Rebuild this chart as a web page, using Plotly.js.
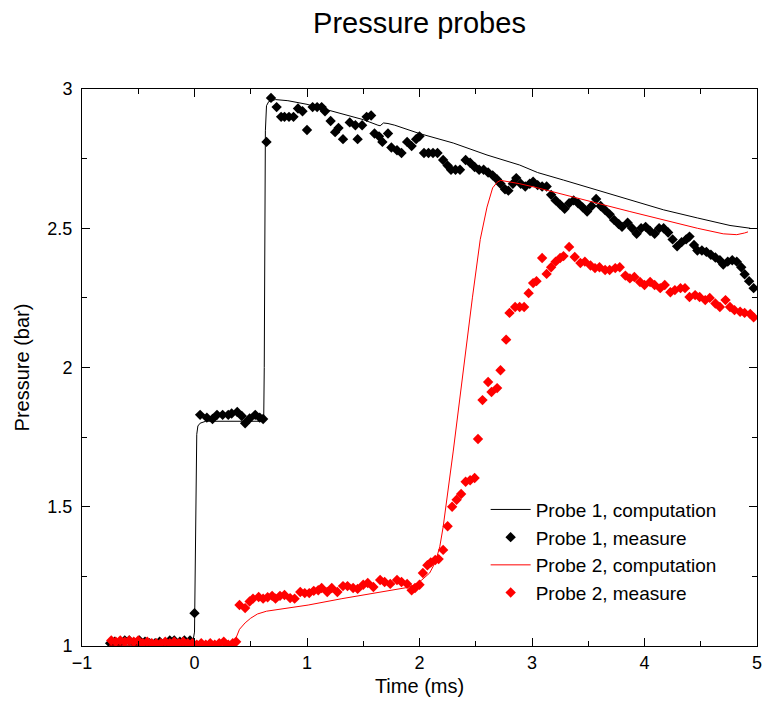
<!DOCTYPE html>
<html>
<head>
<meta charset="utf-8">
<script src="https://cdn.plot.ly/plotly-3.0.1.min.js"></script>
<style>html,body{margin:0;padding:0;background:#fff;}#chart{width:764px;height:706px;}</style>
</head>
<body>
<div id="chart"></div>
<script>
// Probe 1, computation
const p1CompX = [-0.76, -0.02, 0.0, 0.01, 0.02, 0.03, 0.05, 0.1, 0.3, 0.615, 0.62, 0.63, 0.64, 0.66, 0.72, 0.83, 1.0, 1.13, 1.31, 1.43, 1.5, 1.63, 1.65, 1.68, 1.72, 1.78, 2.0, 2.3, 2.6, 2.89, 3.05, 3.28, 3.58, 3.87, 4.17, 4.47, 4.76, 4.94];
const p1CompY = [1.003, 1.003, 1.05, 1.5, 1.76, 1.79, 1.80, 1.807, 1.807, 1.807, 2.0, 2.85, 2.94, 2.955, 2.962, 2.958, 2.945, 2.93, 2.91, 2.896, 2.89, 2.87, 2.868, 2.878, 2.876, 2.87, 2.84, 2.806, 2.763, 2.727, 2.70, 2.673, 2.637, 2.60, 2.566, 2.537, 2.51, 2.50];

// Probe 1, measure
const p1MeasX = [-0.75, -0.71, -0.67, -0.62, -0.58, -0.53, -0.49, -0.44, -0.40, -0.35, -0.31, -0.26, -0.22, -0.18, -0.13, -0.09, -0.04, 0.0,
  0.05, 0.11, 0.16, 0.20, 0.25, 0.30, 0.33, 0.38, 0.42, 0.45, 0.49, 0.54, 0.58, 0.61,
  0.64, 0.68, 0.73, 0.77, 0.80, 0.84, 0.88, 0.92, 0.96, 1.00, 1.05, 1.09, 1.13, 1.16, 1.21, 1.25, 1.28, 1.32, 1.38, 1.43, 1.45, 1.49, 1.53, 1.57,
  1.60, 1.64, 1.67, 1.72, 1.75, 1.80, 1.84, 1.89, 1.93, 1.97, 2.00, 2.04, 2.08, 2.12, 2.16, 2.21, 2.25, 2.28, 2.32, 2.36, 2.41, 2.45, 2.49, 2.53,
  2.57, 2.61, 2.65, 2.69, 2.72, 2.76, 2.79, 2.83, 2.86, 2.90, 2.94, 2.98, 3.01, 3.05, 3.09, 3.13, 3.17, 3.21, 3.25, 3.29, 3.33, 3.37, 3.41, 3.45,
  3.49, 3.53, 3.57, 3.61, 3.65, 3.69, 3.73, 3.77, 3.80, 3.85, 3.89, 3.93, 3.97, 4.01, 4.05, 4.09, 4.13, 4.17, 4.21, 4.25, 4.29, 4.33, 4.37, 4.40,
  4.44, 4.47, 4.51, 4.55, 4.59, 4.63, 4.67, 4.70, 4.74, 4.78, 4.82, 4.86, 4.89, 4.93, 4.97];
const p1MeasY = [1.01, 1.015, 1.01, 1.02, 1.02, 1.01, 1.02, 1.015, 1.01, 1.01, 1.015, 1.01, 1.02, 1.02, 1.015, 1.02, 1.02, 1.118,
  1.83, 1.82, 1.815, 1.83, 1.83, 1.83, 1.835, 1.84, 1.826, 1.80, 1.817, 1.83, 1.82, 1.815,
  2.81, 2.968, 2.935, 2.90, 2.90, 2.90, 2.90, 2.93, 2.92, 2.853, 2.935, 2.935, 2.935, 2.92, 2.885, 2.845, 2.86, 2.82, 2.88, 2.87, 2.82, 2.87, 2.90, 2.905,
  2.84, 2.83, 2.81, 2.84, 2.79, 2.78, 2.77, 2.81, 2.795, 2.82, 2.83, 2.77, 2.77, 2.77, 2.77, 2.745, 2.725, 2.71, 2.71, 2.71, 2.745, 2.735, 2.72, 2.71,
  2.71, 2.70, 2.69, 2.675, 2.66, 2.64, 2.635, 2.66, 2.68, 2.66, 2.65, 2.66, 2.667, 2.655, 2.65, 2.65, 2.62, 2.60, 2.585, 2.57, 2.59, 2.60, 2.59, 2.575,
  2.56, 2.58, 2.605, 2.58, 2.565, 2.55, 2.53, 2.515, 2.505, 2.52, 2.50, 2.48, 2.50, 2.505, 2.49, 2.48, 2.50, 2.50, 2.485, 2.46, 2.435, 2.45, 2.46, 2.47,
  2.44, 2.42, 2.42, 2.415, 2.405, 2.395, 2.385, 2.37, 2.38, 2.385, 2.38, 2.36, 2.335, 2.31, 2.285];

// Probe 2, computation
const p2CompX = [-0.76, 0.30, 0.34, 0.36, 0.40, 0.45, 0.50, 0.56, 0.64, 0.72, 0.85, 1.01, 1.31, 1.61, 1.89, 1.96, 2.02, 2.09, 2.14, 2.18, 2.21, 2.30, 2.39, 2.47, 2.54, 2.60, 2.65, 2.69, 2.72, 2.89, 3.05, 3.28, 3.58, 3.87, 4.17, 4.47, 4.70, 4.82, 4.89, 4.92];
const p2CompY = [1.003, 1.003, 1.008, 1.02, 1.06, 1.083, 1.10, 1.115, 1.125, 1.13, 1.138, 1.147, 1.17, 1.19, 1.21, 1.22, 1.237, 1.262, 1.30, 1.356, 1.427, 1.70, 2.0, 2.25, 2.46, 2.576, 2.645, 2.665, 2.672, 2.66, 2.645, 2.62, 2.59, 2.56, 2.53, 2.50, 2.48, 2.477, 2.483, 2.487];

// Probe 2, measure
const p2MeasX = [-0.74, -0.70, -0.66, -0.62, -0.58, -0.54, -0.50, -0.46, -0.42, -0.38, -0.34, -0.30, -0.26, -0.22, -0.18, -0.14, -0.10, -0.06, -0.02, 0.02, 0.06, 0.10, 0.14, 0.18, 0.22, 0.26, 0.30, 0.34, 0.37,
  0.40, 0.45, 0.49, 0.52, 0.57, 0.61, 0.65, 0.69, 0.72, 0.76, 0.80, 0.85, 0.89, 0.94, 0.98, 1.02, 1.06, 1.10, 1.13, 1.18, 1.22, 1.27, 1.32, 1.36,
  1.41, 1.45, 1.50, 1.54, 1.59, 1.65, 1.69, 1.74, 1.80, 1.84, 1.89, 1.93, 1.96, 2.00, 2.03, 2.07, 2.10, 2.14, 2.17, 2.21, 2.25, 2.29, 2.33, 2.37,
  2.41, 2.45, 2.49, 2.52, 2.56, 2.61, 2.64, 2.69, 2.72, 2.77, 2.80, 2.85, 2.89, 2.93, 2.97, 3.01, 3.04, 3.09, 3.13, 3.17, 3.21, 3.25, 3.28, 3.33,
  3.38, 3.43, 3.47, 3.52, 3.56, 3.60, 3.65, 3.69, 3.74, 3.78, 3.83, 3.87, 3.91, 3.96, 4.00, 4.05, 4.09, 4.14, 4.18, 4.23, 4.27, 4.32, 4.36, 4.40,
  4.45, 4.49, 4.54, 4.58, 4.63, 4.67, 4.72, 4.76, 4.80, 4.85, 4.89, 4.94, 4.97];
const p2MeasY = [1.02, 1.015, 1.02, 1.015, 1.02, 1.015, 1.02, 1.01, 1.015, 1.01, 1.01, 1.01, 1.015, 1.01, 1.015, 1.01, 1.015, 1.01, 1.01, 1.005, 1.01, 1.005, 1.01, 1.005, 1.01, 1.015, 1.005, 1.01, 1.015,
  1.147, 1.136, 1.16, 1.17, 1.176, 1.17, 1.175, 1.18, 1.17, 1.18, 1.183, 1.172, 1.17, 1.194, 1.19, 1.19, 1.198, 1.20, 1.208, 1.194, 1.208, 1.194, 1.215, 1.215,
  1.208, 1.205, 1.22, 1.226, 1.212, 1.237, 1.23, 1.223, 1.237, 1.23, 1.223, 1.20, 1.208, 1.22, 1.262, 1.29, 1.30, 1.309, 1.312, 1.345, 1.43, 1.50, 1.525, 1.546,
  1.59, 1.595, 1.603, 1.743, 1.883, 1.948, 1.912, 1.926, 1.99, 2.10, 2.196, 2.217, 2.217, 2.217, 2.267, 2.303, 2.31, 2.393, 2.336, 2.36, 2.38, 2.393, 2.40, 2.433,
  2.397, 2.375, 2.38, 2.366, 2.357, 2.36, 2.35, 2.35, 2.357, 2.36, 2.33, 2.32, 2.325, 2.307, 2.296, 2.307, 2.296, 2.285, 2.296, 2.27, 2.278, 2.285, 2.285, 2.253,
  2.26, 2.253, 2.242, 2.25, 2.23, 2.217, 2.242, 2.217, 2.206, 2.20, 2.196, 2.192, 2.18];

const xTickVals = [-1, 0, 1, 2, 3, 4, 5];
const xTickText = ['\u22121', '0', '1', '2', '3', '4', '5'];
const yTickVals = [1, 1.5, 2, 2.5, 3];
const yTickText = ['1', '1.5', '2', '2.5', '3'];

const FONT = 'Liberation Sans, Arial, sans-serif';

const traces = [
  {x: p1CompX, y: p1CompY, mode: 'lines', name: 'Probe 1, computation', line: {color: '#000000', width: 1}},
  {x: p1MeasX, y: p1MeasY, mode: 'markers', name: 'Probe 1, measure', marker: {symbol: 'diamond', size: 8, color: '#000000'}},
  {x: p2CompX, y: p2CompY, mode: 'lines', name: 'Probe 2, computation', line: {color: '#ff0000', width: 1}},
  {x: p2MeasX, y: p2MeasY, mode: 'markers', name: 'Probe 2, measure', marker: {symbol: 'diamond', size: 8, color: '#ff0000'}}
];

const axisCommon = {
  showgrid: false, zeroline: false, showline: true, mirror: 'ticks',
  linecolor: '#000', linewidth: 1, ticks: 'inside', ticklen: 8, tickcolor: '#000', tickwidth: 1,
  tickfont: {family: FONT, size: 18, color: '#000'}
};

const layout = {
  width: 764, height: 706,
  margin: {l: 82, r: 7, t: 89, b: 60},
  paper_bgcolor: '#fff', plot_bgcolor: '#fff',
  title: {text: 'Pressure probes', font: {family: FONT, size: 29, color: '#000'}, xref: 'paper', x: 0.5, xanchor: 'center', y: 0.968, yanchor: 'middle'},
  xaxis: Object.assign({}, axisCommon, {
    range: [-1, 5], tickvals: xTickVals, ticktext: xTickText,
    minor: {dtick: 0.5, tick0: 0, ticks: 'inside', ticklen: 5, tickcolor: '#000', showgrid: false},
    title: {text: 'Time (ms)', font: {family: FONT, size: 20, color: '#000'}, standoff: 7}
  }),
  yaxis: Object.assign({}, axisCommon, {
    range: [1, 3], tickvals: yTickVals, ticktext: yTickText, ticklabelstandoff: 5,
    minor: {dtick: 0.25, tick0: 0, ticks: 'inside', ticklen: 5, tickcolor: '#000', showgrid: false},
    title: {text: 'Pressure (bar)', font: {family: FONT, size: 20, color: '#000'}, standoff: 12}
  }),
  showlegend: true,
  legend: {x: 0.598, y: 0.279, xanchor: 'left', yanchor: 'top', bgcolor: 'rgba(0,0,0,0)',
    font: {family: FONT, size: 19, color: '#000'}, tracegroupgap: 0, itemwidth: 40}
};

Plotly.newPlot('chart', traces, layout, {displayModeBar: false, staticPlot: true});
</script>
</body>
</html>
